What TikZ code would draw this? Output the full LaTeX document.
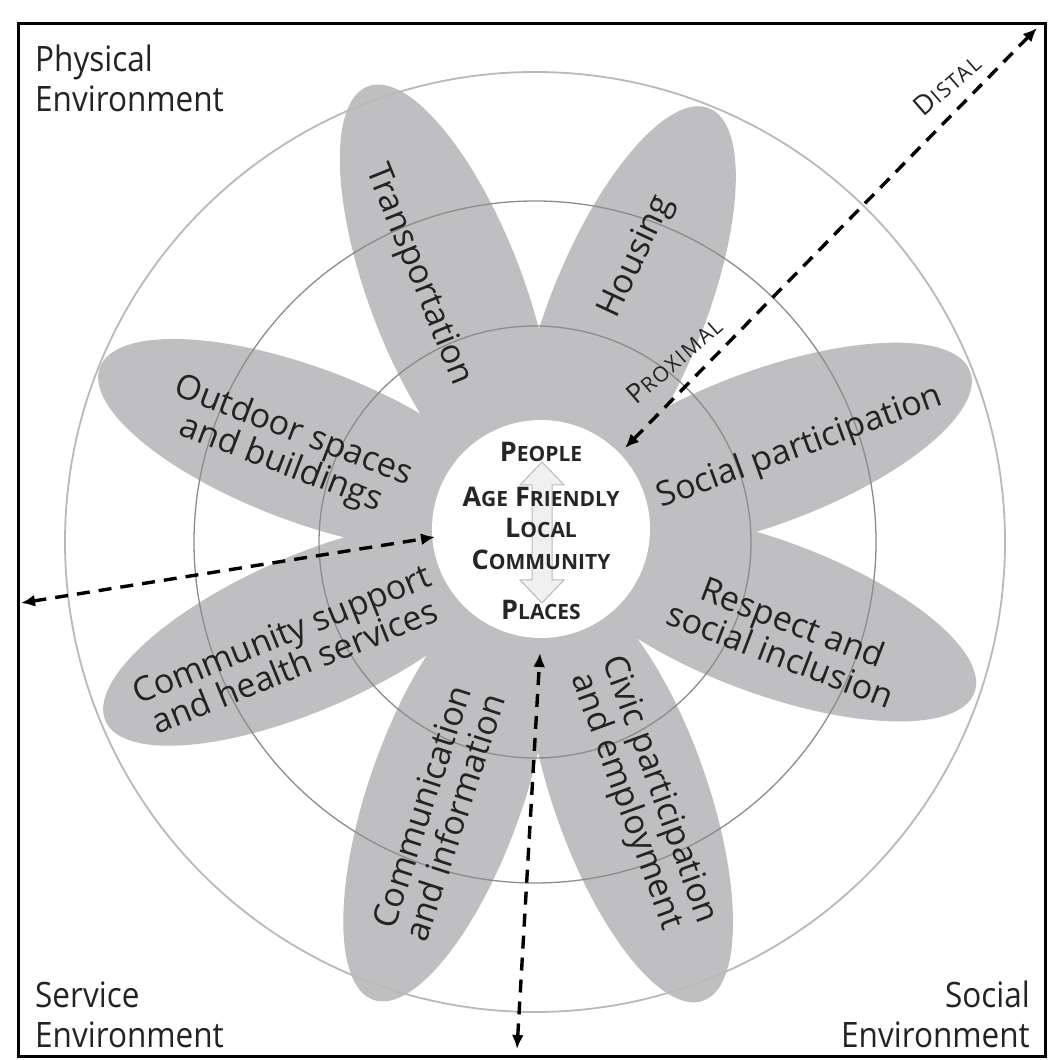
\documentclass[tikz,border=0pt]{standalone}
\usepackage{fontspec}
\setmainfont{Open Sans}[FakeStretch=0.9]
\newfontfamily\ctrfont{Open Sans}
\newfontfamily\scfont{Open Sans}[LetterSpace=8]
\usetikzlibrary{arrows.meta,calc}
\definecolor{petalgray}{RGB}{191,191,193}
\definecolor{ringgray}{RGB}{140,140,140}
\definecolor{outergray}{RGB}{185,185,185}
\definecolor{txtgray}{RGB}{35,35,35}
\newcommand\fsc[4]{{\fontsize{#1}{#1}\selectfont #3}{\fontsize{#2}{#2}\selectfont #4}}
\tikzset{
  petal/.style={fill=petalgray},
  ring/.style={draw=ringgray, line width=1.3pt},
  outerring/.style={draw=outergray, line width=1.8pt},
  ptext/.style={font=\ctrfont\fontsize{34}{35}\selectfont, text=txtgray, align=center, inner sep=0},
  envlabel/.style={font=\fontsize{35}{40}\selectfont, text=txtgray, inner sep=0},
  ctext/.style={font=\ctrfont\bfseries, text=black!85, inner sep=0, anchor=base},
  dasharrow/.style={line width=3.4pt, dash pattern=on 13pt off 9pt, {Latex[length=14pt,width=12pt]}-{Latex[length=14pt,width=12pt]}},
  smallcap/.style={font=\scfont, text=txtgray, inner sep=0}
}
\begin{document}
\begin{tikzpicture}[x=1pt,y=1pt]
\useasboundingbox (0,0) rectangle (1049,1060);
\fill[white] (0,0) rectangle (1049,1060);
% petals
\coordinate (O) at (538,528);
\foreach \ang/\c in {110.9/257, 68/237, 20.4/241, -20.2/245, -70.6/277, -109.4/276, -156.4/252, 159.4/248}{
  \fill[petal, shift={(O)}, rotate=\ang] (\c,0) ellipse [x radius=220, y radius=77];
}
% rings
\coordinate (R) at (535,518);
\draw[outerring] (R) circle [radius=470];
\draw[ring] (R) circle [radius=341];
\draw[ring] (R) circle [radius=216];
% center
\node[circle, fill=white, minimum size=218pt, inner sep=0] (ctr) at (541,531) {};
\draw[fill=gray!12, draw=gray!55, line width=1pt]
  (542,598) -- (564,575) -- (552,575) -- (552,480) -- (564,480) -- (542,457)
  -- (520,480) -- (532,480) -- (532,575) -- (520,575) -- cycle;
\node[ctext] (people) at (541,598) {\fsc{27}{21}{P}{EOPLE}};
\node[ctext] (age) at (541,553) {\fsc{27}{21}{A}{GE}\hspace{7pt}\fsc{27}{21}{F}{RIENDLY}};
\node[ctext] (local) at (541,522) {\fsc{27}{21}{L}{OCAL}};
\node[ctext] (comm) at (541,490) {\fsc{27}{21}{C}{OMMUNITY}};
\node[ctext] (places) at (541,440) {\fsc{27}{21}{P}{LACES}};
% petal labels
\node[ptext, rotate=-68] (transp) at (418,785) {Transportation};
\node[ptext, rotate=65] (housing) at (637,803) {Housing};
\node[ptext, rotate=20] (socpart) at (800,612) {Social participation};
\node[ptext, rotate=-21] (outdoor) at (287,612) {Outdoor spaces\\and buildings};
\node[ptext, rotate=22] (commsup) at (288,410) {Community support\\and health services};
\node[ptext, rotate=-21] (respect) at (787,422) {Respect and\\social inclusion};
\node[ptext, rotate=72] (commun) at (438,248) {Communication\\and information};
\node[ptext, rotate=-70] (civic) at (642,264) {Civic participation\\and employment};
% proximal / distal
\node[smallcap, rotate=41] (prox) at (674,700) {\fsc{27}{21}{P}{ROXIMAL}};
\node[smallcap, rotate=41] (dist) at (947,975) {\fsc{27}{21}{D}{ISTAL}};
% environment labels
\node[envlabel, anchor=north west, align=left] (phys) at (35,1015) {Physical\\Environment};
\node[envlabel, anchor=south west, align=left] (serv) at (35,12) {Service\\Environment};
\node[envlabel, anchor=south east, align=right] (soc) at (1030,12) {Social\\Environment};
% arrows
\coordinate (d1a) at (1037,1032);
\coordinate (d1b) at (625,612);
\coordinate (d2a) at (435,523);
\coordinate (d2b) at (21,457);
\coordinate (d3a) at (540,407);
\coordinate (d3b) at (517,11);
\draw[dasharrow] (d1b) -- (d1a);
\draw[dasharrow] (d2b) -- (d2a);
\draw[dasharrow] (d3b) -- (d3a);
% border
\draw[line width=3pt] (18,1036) rectangle (1045,3);
\end{tikzpicture}
\end{document}
